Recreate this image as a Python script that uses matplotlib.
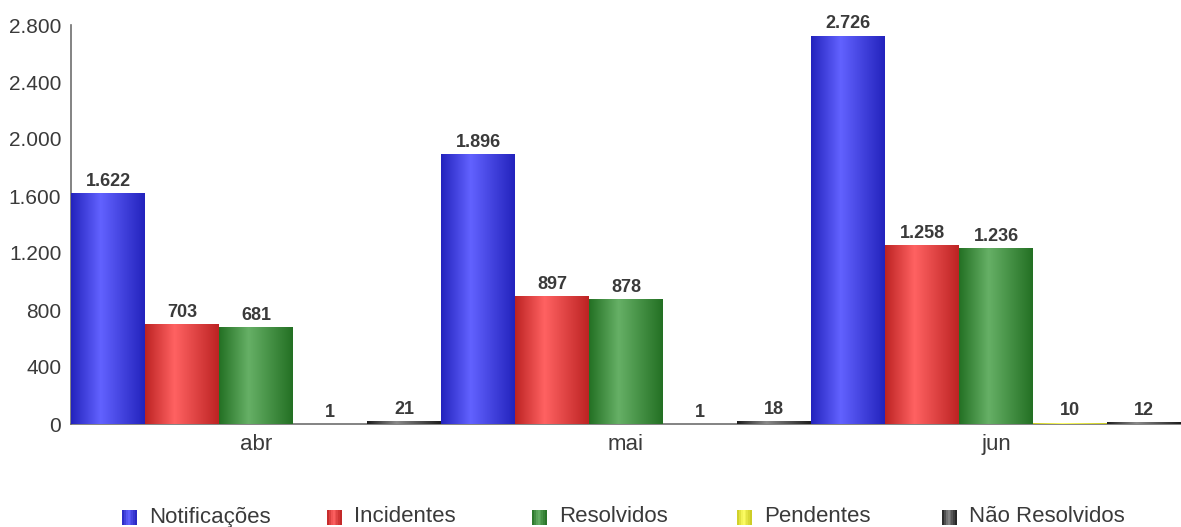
import numpy as np
import matplotlib
matplotlib.use('Agg')
import matplotlib.pyplot as plt
from matplotlib.colors import LinearSegmentedColormap
from matplotlib.patches import Rectangle

plt.rcParams['font.family'] = ['Liberation Sans', 'DejaVu Sans']

months = ['abr', 'mai', 'jun']
series = ['Notificações', 'Incidentes', 'Resolvidos', 'Pendentes', 'Não Resolvidos']
notificacoes = [1622, 1896, 2726]
incidentes = [703, 897, 1258]
resolvidos = [681, 878, 1236]
pendentes = [1, 1, 10]
nao_resolvidos = [21, 18, 12]
y_ticks = [0, 400, 800, 1200, 1600, 2000, 2400, 2800]

values = [notificacoes, incidentes, resolvidos, pendentes, nao_resolvidos]

# (dark edge, light highlight) for the cylinder-like shading
shades = [
    ('#2323bd', '#6262ff'),
    ('#bd2323', '#ff6262'),
    ('#237023', '#66b066'),
    ('#c8c820', '#ffff66'),
    ('#1c1c1c', '#8a8a8a'),
]
TEXT = '#3a3a3a'
W, H = 1181, 527


def shade_cmap(dark, light):
    return LinearSegmentedColormap.from_list(
        'shade', [(0.0, dark), (0.4, light), (1.0, dark)])


def fmt(v):
    return f'{v:,}'.replace(',', '.')


fig = plt.figure(figsize=(W / 100, H / 100), dpi=100)
ax = fig.add_axes([71 / W, 1 - 424 / H, 1 - 71 / W, (424 - 25) / H])

n = len(series)
width = 1.0 / n
x = np.arange(len(months))
grad = np.linspace(0, 1, 256).reshape(1, -1)

for i, (name, vals, (dark, light)) in enumerate(zip(series, values, shades)):
    offs = x - 0.5 + width * (i + 0.5)
    # solid base keeps very short bars visible; the gradient goes on top
    bars = ax.bar(offs, vals, width=width, color=dark, edgecolor='none',
                  linewidth=0, label=name, zorder=2)
    cmap = shade_cmap(dark, light)
    for bar, v in zip(bars, vals):
        bx, bw, bh = bar.get_x(), bar.get_width(), bar.get_height()
        img = ax.imshow(grad, cmap=cmap, aspect='auto', zorder=2.1,
                        extent=[bx, bx + bw, 0, bh], interpolation='bilinear')
        img.set_clip_path(Rectangle((bx, 0), bw, bh, transform=ax.transData))
        ax.text(bx + bw / 2, v + 22, fmt(v), ha='center', va='bottom',
                fontsize=13, fontweight='bold', color=TEXT, zorder=4)

ax.set_xlim(-0.5, len(months) - 0.5)
ax.set_ylim(0, 2800)
ax.set_yticks(y_ticks)
ax.set_yticklabels([fmt(t) for t in y_ticks])
ax.set_xticks(x)
ax.set_xticklabels(months)
ax.tick_params(axis='both', length=0, labelcolor=TEXT)
ax.tick_params(axis='y', pad=7, labelsize=15)
ax.tick_params(axis='x', pad=7, labelsize=16)

for side in ('top', 'right'):
    ax.spines[side].set_visible(False)
for side in ('left', 'bottom'):
    ax.spines[side].set_color('#6e6e6e')
    ax.spines[side].set_linewidth(1.2)
    ax.spines[side].set_zorder(1.5)

# legend row: evenly spaced shaded squares with labels
sq = 15
ly = 517
for i, (name, (dark, light)) in enumerate(zip(series, shades)):
    x0 = 122 + 205 * i
    cmap = shade_cmap(dark, light)
    steps = 8
    for k in range(steps):
        fig.patches.append(Rectangle(
            ((x0 + k * sq / steps) / W, 1 - (ly + sq / 2) / H),
            (sq / steps + 0.4) / W, sq / H, transform=fig.transFigure,
            facecolor=cmap((k + 0.5) / steps), edgecolor='none'))
    fig.text((x0 + 27) / W, 1 - ly / H, name, ha='left', va='center',
             fontsize=16, color=TEXT)

fig.savefig('out.png', dpi=100, facecolor='white')
